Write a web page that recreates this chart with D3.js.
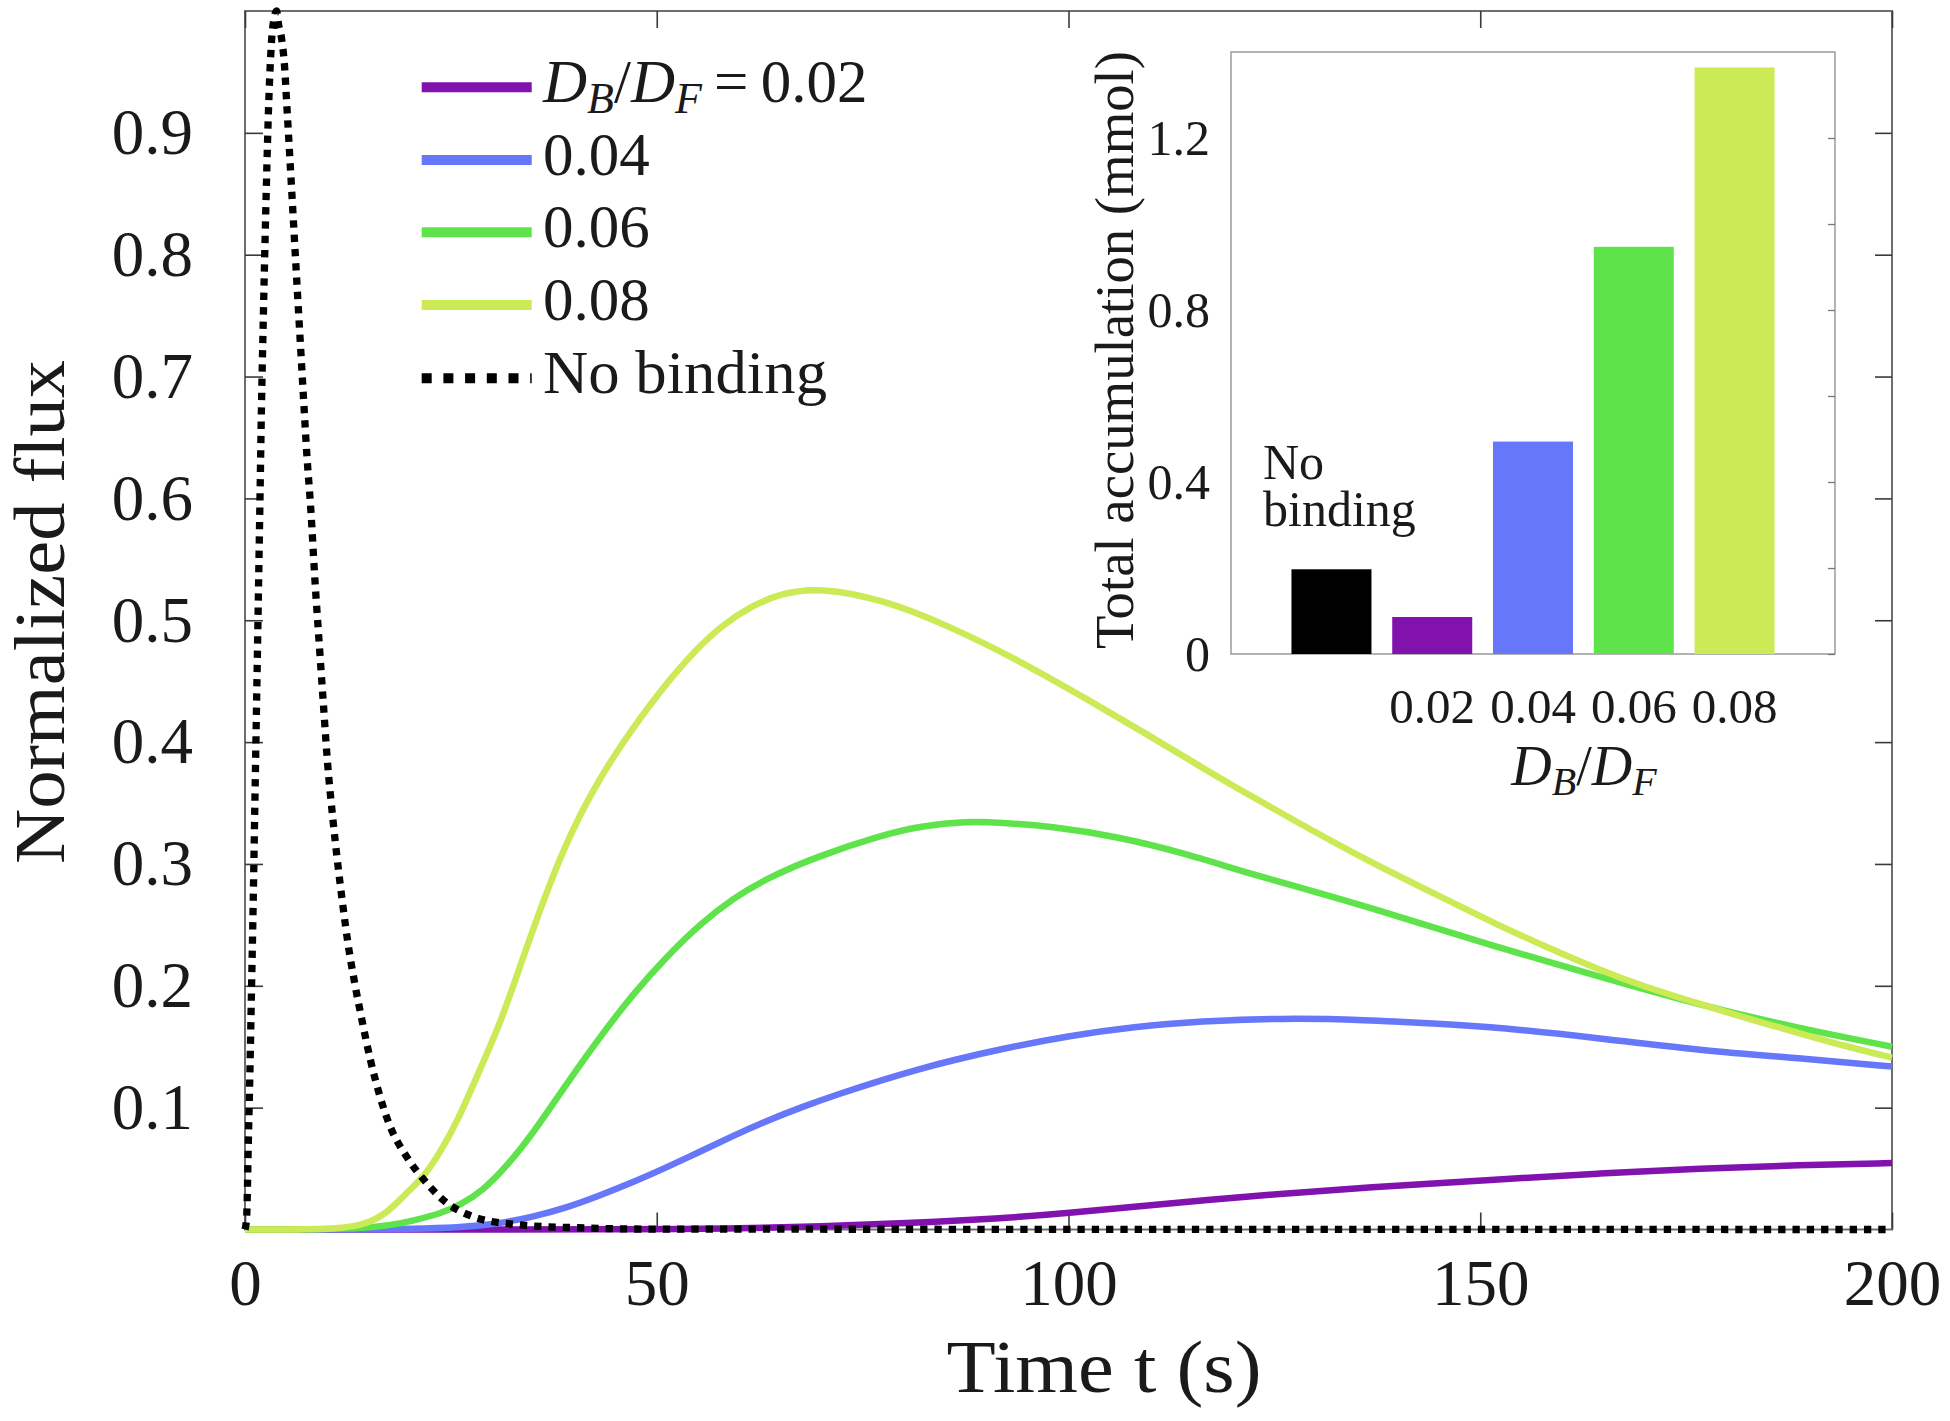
<!DOCTYPE html>
<html><head><meta charset="utf-8">
<script src="https://cdn.jsdelivr.net/npm/d3@7"></script>
<style>
body{margin:0;background:#fff}
svg{display:block}
text{font-family:"Liberation Serif","Times New Roman",serif;fill:#1a1a1a}
</style>
</head><body>
<svg id="chart" width="1950" height="1421"></svg>
<script>
// ---------------- data ----------------
const xTicks = [0, 50, 100, 150, 200];
const yTicks = [0.1, 0.2, 0.3, 0.4, 0.5, 0.6, 0.7, 0.8, 0.9];

const tNoBinding = [0, 0.2, 0.4, 0.6, 0.8, 1.0, 1.2, 1.4, 1.6, 1.82, 2.0, 2.23, 2.5, 2.83, 3.24, 3.5, 3.85, 4.05, 4.45, 4.8, 5.1, 5.5, 5.9, 6.3, 6.7, 7.1, 7.5, 8.0, 8.5, 9.0, 9.5, 10.0, 10.7, 11.3, 11.9, 12.5, 13.3, 14.2, 15.2, 16.4, 17.6, 19.6, 21.7, 24.1, 27.7, 33, 40, 50, 200];
const vNoBinding = [0, 0.01, 0.07, 0.13, 0.2, 0.27, 0.35, 0.43, 0.51, 0.60, 0.675, 0.75, 0.83, 0.914, 0.977, 0.993, 1.0, 0.99, 0.977, 0.955, 0.92, 0.873, 0.825, 0.777, 0.73, 0.683, 0.637, 0.59, 0.532, 0.482, 0.433, 0.385, 0.335, 0.298, 0.265, 0.235, 0.203, 0.172, 0.14, 0.109, 0.085, 0.06, 0.041, 0.024, 0.0105, 0.004, 0.0015, 0.0003, 0];

const t002 = [0, 50, 60, 70, 80, 91.7, 99.8, 111.9, 124.1, 136.2, 152.4, 164.5, 176.7, 188.8, 200];
const v002 = [0, 0, 0.0008, 0.0025, 0.005, 0.009, 0.0133, 0.0213, 0.0285, 0.0345, 0.0412, 0.046, 0.050, 0.053, 0.0545];

const t004 = [0, 25, 31, 35, 39.1, 43.1, 47.2, 51.2, 55.3, 59.3, 63.3, 67.4, 72, 77, 82, 86, 91.7, 100, 108, 116, 126.1, 136.2, 144.3, 152.4, 164.5, 176.7, 188.8, 200];
const v004 = [0, 0, 0.005, 0.0105, 0.018, 0.028, 0.039, 0.051, 0.064, 0.077, 0.089, 0.100, 0.111, 0.122, 0.132, 0.139, 0.148, 0.159, 0.1665, 0.171, 0.1735, 0.172, 0.169, 0.1658, 0.157, 0.147, 0.1405, 0.1337];

const t006 = [0, 16, 20.8, 23.7, 26.1, 28.9, 31.8, 35, 39.1, 43.1, 47.2, 51.2, 55.3, 59.3, 63.3, 69.4, 77.5, 82, 87.6, 91.7, 97.8, 105.9, 114, 122, 132.2, 140.3, 152.4, 164.5, 176.7, 188.8, 200];
const v006 = [0, 0, 0.008, 0.013, 0.020, 0.032, 0.052, 0.079, 0.12, 0.158, 0.194, 0.224, 0.251, 0.272, 0.288, 0.306, 0.324, 0.331, 0.335, 0.334, 0.331, 0.3225, 0.309, 0.292, 0.273, 0.2565, 0.231, 0.2075, 0.184, 0.165, 0.150];

const t008 = [0, 12, 14.8, 17.2, 19.6, 21.7, 23.7, 26.1, 28.5, 31, 33.4, 35.8, 38.3, 40.7, 43.1, 45.5, 50, 55, 58, 61.3, 65, 69.8, 77.5, 85.6, 93.7, 101.8, 109.9, 116, 120, 128.1, 136.2, 144.3, 152.4, 158, 164.5, 170, 176.7, 182, 188.8, 194, 200];
const v008 = [0, 0, 0.005, 0.013, 0.030, 0.043, 0.063, 0.093, 0.131, 0.169, 0.216, 0.262, 0.306, 0.341, 0.370, 0.396, 0.439, 0.478, 0.496, 0.511, 0.522, 0.527, 0.517, 0.495, 0.468, 0.437, 0.405, 0.38, 0.364, 0.333, 0.303, 0.276, 0.249, 0.232, 0.213, 0.199, 0.185, 0.174, 0.161, 0.151, 0.141];

const seriesNames = ["0.02", "0.04", "0.06", "0.08"];
const seriesColors = ["#8112ad", "#6677fa", "#5fe34a", "#cbea55"];

const barCategories = ["No binding", "0.02", "0.04", "0.06", "0.08"];
const barValues = [0.197, 0.086, 0.494, 0.947, 1.364];
const barColors = ["#000000", "#8112ad", "#6677fa", "#5fe34a", "#cbea55"];
const insetYTicks = [0, 0.4, 0.8, 1.2];
const insetMinorTicks = [0, 0.2, 0.4, 0.6, 0.8, 1.0, 1.2];

// ---------------- main plot ----------------
const svg = d3.select("#chart");
const L = 245, R = 1892, T = 11, B = 1229.5;
const x = d3.scaleLinear().domain([0, 200]).range([L, R]);
const y = d3.scaleLinear().domain([0, 1]).range([B, T]);

const axisColor = "#6e6e6e";
function styleAxis(g, fs) {
  g.select(".domain").remove();
  g.selectAll(".tick line").attr("stroke", "#3a3a3a").attr("stroke-width", 1.6);
  g.selectAll(".tick text").attr("fill", "#1a1a1a").style("font-size", fs + "px")
    .style("font-family", '"Liberation Serif","Times New Roman",serif');
}

// box first (curves are drawn over it)
svg.append("rect").attr("x", L).attr("y", T).attr("width", R - L).attr("height", B - T)
  .attr("fill", "none").attr("stroke", axisColor).attr("stroke-width", 2);

svg.append("g").attr("transform", `translate(0,${B})`)
  .call(d3.axisBottom(x).tickValues(xTicks).tickSize(-17).tickPadding(29.5).tickFormat(d3.format("d")))
  .call(g => styleAxis(g, 65));
svg.append("g").attr("transform", `translate(${L},0)`)
  .call(d3.axisLeft(y).tickValues(yTicks).tickSize(-18).tickPadding(52).tickFormat(d3.format(".1f")))
  .call(g => styleAxis(g, 65));
svg.append("g").attr("transform", `translate(0,${T})`)
  .call(d3.axisTop(x).tickValues(xTicks).tickSize(-17).tickFormat(""))
  .call(g => styleAxis(g, 65));
svg.append("g").attr("transform", `translate(${R},0)`)
  .call(d3.axisRight(y).tickValues(yTicks).tickSize(-17).tickFormat(""))
  .call(g => styleAxis(g, 65));

// curves
const smooth = d3.line().x(d => x(d[0])).y(d => y(d[1])).curve(d3.curveBasis);
const sharp = d3.line().x(d => x(d[0])).y(d => y(d[1])).curve(d3.curveMonotoneX);
const series = [[t002, v002], [t004, v004], [t006, v006], [t008, v008]];
series.forEach((s, i) => {
  svg.append("path").datum(d3.zip(s[0], s[1]))
    .attr("d", smooth).attr("fill", "none")
    .attr("stroke", seriesColors[i]).attr("stroke-width", 6.5)
    .attr("stroke-linejoin", "round");
});
svg.append("path").datum(d3.zip(tNoBinding, vNoBinding))
  .attr("d", sharp).attr("fill", "none")
  .attr("stroke", "#000").attr("stroke-width", 7.3)
  .attr("stroke-dasharray", "7.3 7");

// axis titles
svg.append("text").attr("x", 1104).attr("y", 1392).attr("text-anchor", "middle")
  .attr("textLength", 315).attr("lengthAdjust", "spacingAndGlyphs")
  .style("font-size", "75px").text("Time t (s)");
svg.append("text").attr("transform", "translate(64,612) rotate(-90)").attr("text-anchor", "middle")
  .attr("textLength", 504).attr("lengthAdjust", "spacingAndGlyphs")
  .style("font-size", "72px").text("Normalized flux");

// legend
const legX0 = 421.7, legX1 = 531.7, legTextX = 543;
const legRows = [87.3, 160, 232.3, 305, 378.3];
seriesNames.forEach((name, i) => {
  svg.append("line").attr("x1", legX0).attr("x2", legX1).attr("y1", legRows[i]).attr("y2", legRows[i])
    .attr("stroke", seriesColors[i]).attr("stroke-width", 10);
  const t = svg.append("text").attr("x", legTextX).attr("y", legRows[i] + 15).style("font-size", "61px");
  if (i === 0) {
    t.append("tspan").style("font-style", "italic").text("D");
    t.append("tspan").style("font-style", "italic").style("font-size", "44px").attr("dy", 11).text("B");
    t.append("tspan").attr("dy", -11).text("/");
    t.append("tspan").style("font-style", "italic").text("D");
    t.append("tspan").style("font-style", "italic").style("font-size", "44px").attr("dy", 11).text("F");
    t.append("tspan").attr("dy", -11).text("\u2009=\u2009" + name);
  } else {
    t.text(name);
  }
});
svg.append("line").attr("x1", legX0).attr("x2", legX1).attr("y1", legRows[4]).attr("y2", legRows[4])
  .attr("stroke", "#000").attr("stroke-width", 10).attr("stroke-dasharray", "10 11.7");
svg.append("text").attr("x", legTextX).attr("y", legRows[4] + 15)
  .attr("textLength", 284).attr("lengthAdjust", "spacingAndGlyphs")
  .style("font-size", "61px").text("No binding");

// ---------------- inset ----------------
const iL = 1231, iR = 1835, iT = 52, iB = 654;
const xb = d3.scaleBand().domain(barCategories).range([iL, iR]).paddingInner(0.206).paddingOuter(0.6);
const yb = d3.scaleLinear().domain([0, 1.4]).range([iB, iT]);

svg.append("rect").attr("x", iL).attr("y", iT).attr("width", iR - iL).attr("height", iB - iT)
  .attr("fill", "#fff").attr("stroke", "#9a9a9a").attr("stroke-width", 1.5);

svg.append("g").selectAll("rect").data(barCategories).join("rect")
  .attr("x", d => xb(d)).attr("width", xb.bandwidth())
  .attr("y", (d, i) => yb(barValues[i])).attr("height", (d, i) => iB - yb(barValues[i]))
  .attr("fill", (d, i) => barColors[i]);

svg.append("g").attr("transform", `translate(${iR},0)`)
  .call(d3.axisRight(yb).tickValues(insetMinorTicks).tickSize(-7).tickFormat(""))
  .call(g => { g.select(".domain").remove(); g.selectAll(".tick line").attr("stroke", "#777").attr("stroke-width", 1.3); });
svg.append("g").attr("transform", `translate(${iL},0)`)
  .call(d3.axisLeft(yb).tickValues(insetYTicks).tickSize(0).tickPadding(21).tickFormat(d => d === 0 ? "0" : d3.format(".1f")(d)))
  .call(g => styleAxis(g, 50));
svg.append("g").attr("transform", `translate(0,${iB})`)
  .call(d3.axisBottom(xb).tickSize(0).tickPadding(34).tickFormat(d => d === "No binding" ? "" : d))
  .call(g => styleAxis(g, 49));

// annotation
const ann = svg.append("text").style("font-size", "50px");
ann.append("tspan").attr("x", 1263).attr("y", 479).text("No");
ann.append("tspan").attr("x", 1263).attr("y", 526).text("binding");

// inset titles
const xt = svg.append("text").attr("x", 1584).attr("y", 785).attr("text-anchor", "middle").style("font-size", "56px");
xt.append("tspan").style("font-style", "italic").text("D");
xt.append("tspan").style("font-style", "italic").style("font-size", "40px").attr("dy", 10).text("B");
xt.append("tspan").attr("dy", -10).text("/");
xt.append("tspan").style("font-style", "italic").text("D");
xt.append("tspan").style("font-style", "italic").style("font-size", "40px").attr("dy", 10).text("F");

svg.append("text").attr("transform", "translate(1133,350) rotate(-90)").attr("text-anchor", "middle")
  .attr("textLength", 598).attr("lengthAdjust", "spacingAndGlyphs")
  .style("font-size", "54px").text("Total accumulation (mmol)");
</script>
</body></html>
